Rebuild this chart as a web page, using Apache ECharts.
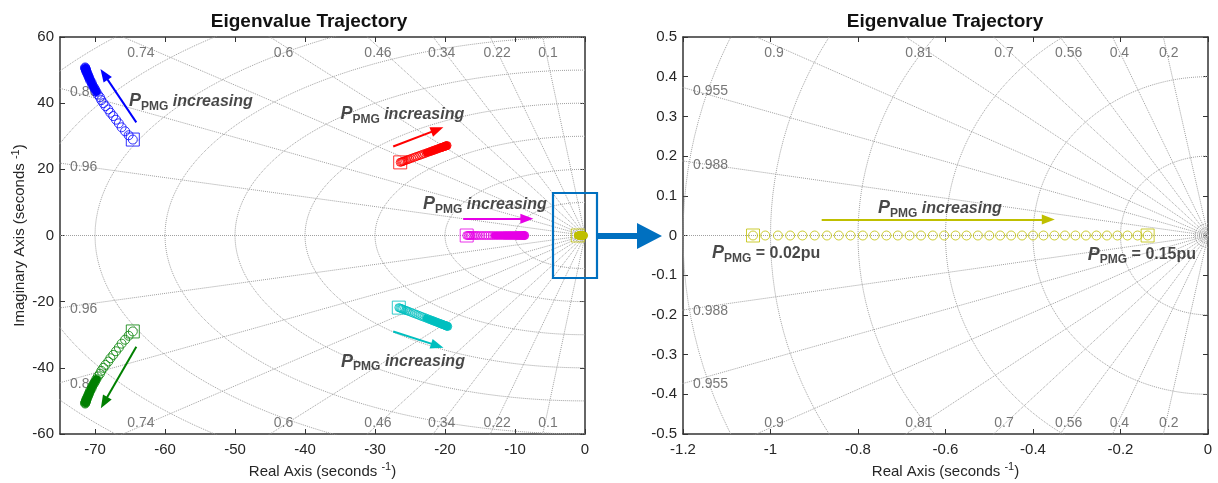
<!DOCTYPE html>
<html>
<head>
<meta charset="utf-8">
<script src="https://cdn.jsdelivr.net/npm/echarts@6/dist/echarts.min.js"></script>
<style>
  html, body { margin: 0; background: #fff; }
  #main { width: 1218px; height: 483px; }
</style>
</head>
<body>
<div id="main"></div>
<script>
// ---------- tick labels ----------
const leftXTicks = [-70, -60, -50, -40, -30, -20, -10, 0]
const leftYTicks = [-60, -40, -20, 0, 20, 40, 60]
const rightXTicks = [-1.2, -1, -0.8, -0.6, -0.4, -0.2, 0]
const rightYTicks = [-0.5, -0.4, -0.3, -0.2, -0.1, 0, 0.1, 0.2, 0.3, 0.4, 0.5]

// damping ratios / natural frequencies of the s-plane grid
const leftZeta = [0.1, 0.22, 0.34, 0.46, 0.6, 0.74, 0.86, 0.96]
const leftWn = [0.5, 1, 1.5, 2, 10, 20, 30, 40, 50, 60, 70, 80, 90]
const rightZeta = [0.2, 0.4, 0.56, 0.7, 0.81, 0.9, 0.955, 0.988]
const rightWn = [0.01, 0.02, 0.03, 0.2, 0.4, 0.6, 0.8, 1, 1.2]

// ---------- eigenvalues (P_PMG from 0.02pu to 0.15pu) ----------
const blueRe = [-64.6, -65.2, -65.7, -66.2, -66.6, -67.0, -67.4, -67.8, -68.1, -68.5, -68.8, -69.1, -69.3, -69.6, -69.8,
  -70.0, -70.2, -70.4, -70.5, -70.7, -70.8, -70.9, -71.0, -71.1, -71.2, -71.25, -71.3, -71.35, -71.4, -71.4]
const blueIm = [29.0, 30.3, 31.5, 32.7, 33.9, 35.0, 36.1, 37.1, 38.1, 39.1, 40.0, 40.9, 41.8, 42.6, 43.4,
  44.2, 44.9, 45.6, 46.3, 46.9, 47.5, 48.0, 48.5, 49.0, 49.4, 49.8, 50.1, 50.4, 50.6, 50.8]

const greenRe = [-64.6, -65.2, -65.7, -66.2, -66.6, -67.0, -67.4, -67.8, -68.1, -68.5, -68.8, -69.1, -69.3, -69.6, -69.8,
  -70.0, -70.2, -70.4, -70.5, -70.7, -70.8, -70.9, -71.0, -71.1, -71.2, -71.25, -71.3, -71.35, -71.4, -71.4]
const greenIm = [-29.0, -30.3, -31.5, -32.7, -33.9, -35.0, -36.1, -37.1, -38.1, -39.1, -40.0, -40.9, -41.8, -42.6, -43.4,
  -44.2, -44.9, -45.6, -46.3, -46.9, -47.5, -48.0, -48.5, -49.0, -49.4, -49.8, -50.1, -50.4, -50.6, -50.8]

const redRe = [-26.40, -26.27, -26.13, -26.00, -25.86, -25.66, -25.46, -25.26, -25.06, -24.79, -24.52, -24.26,
  -23.99, -23.72, -23.45, -23.18, -22.92, -22.65, -22.38, -22.11, -21.91, -21.71, -21.51, -21.31,
  -21.11, -20.91, -20.71, -20.57, -20.44, -20.30, -20.17, -20.04, -19.90, -19.83, -19.77, -19.70]
const redIm = [22.10, 22.20, 22.30, 22.41, 22.51, 22.66, 22.81, 22.97, 23.12, 23.32, 23.53, 23.73,
  23.94, 24.14, 24.34, 24.55, 24.75, 24.96, 25.16, 25.36, 25.52, 25.67, 25.82, 25.98,
  26.13, 26.28, 26.44, 26.54, 26.64, 26.74, 26.84, 26.95, 27.05, 27.10, 27.15, 27.20]

const cyanRe = [-26.60, -26.46, -26.32, -26.18, -26.04, -25.83, -25.62, -25.41, -25.20, -24.92, -24.64, -24.36,
  -24.08, -23.80, -23.52, -23.24, -22.96, -22.68, -22.40, -22.12, -21.91, -21.70, -21.49, -21.28,
  -21.07, -20.86, -20.65, -20.51, -20.37, -20.23, -20.09, -19.95, -19.81, -19.74, -19.67, -19.60]
const cyanIm = [-21.80, -21.91, -22.03, -22.14, -22.26, -22.43, -22.60, -22.77, -22.94, -23.17, -23.40, -23.62,
  -23.85, -24.08, -24.31, -24.54, -24.76, -24.99, -25.22, -25.45, -25.62, -25.79, -25.96, -26.13,
  -26.30, -26.47, -26.65, -26.76, -26.87, -26.99, -27.10, -27.22, -27.33, -27.39, -27.44, -27.50]

const magentaRe = [-16.90, -16.73, -16.57, -16.40, -16.24, -15.99, -15.74, -15.49, -15.24, -14.91, -14.58, -14.24,
  -13.91, -13.58, -13.25, -12.92, -12.58, -12.25, -11.92, -11.59, -11.34, -11.09, -10.84, -10.59,
  -10.34, -10.09, -9.85, -9.68, -9.51, -9.35, -9.18, -9.02, -8.85, -8.77, -8.68, -8.60]
const magentaIm = [0, 0, 0, 0, 0, 0, 0, 0, 0, 0, 0, 0, 0, 0, 0, 0, 0, 0,
  0, 0, 0, 0, 0, 0, 0, 0, 0, 0, 0, 0, 0, 0, 0, 0, 0, 0]

const yellowRe = [-1.040, -1.012, -0.983, -0.955, -0.927, -0.899, -0.871, -0.844, -0.817, -0.789, -0.762, -0.735,
  -0.709, -0.682, -0.656, -0.629, -0.603, -0.577, -0.552, -0.526, -0.500, -0.475, -0.450, -0.425,
  -0.400, -0.376, -0.351, -0.327, -0.303, -0.279, -0.255, -0.231, -0.207, -0.184, -0.161, -0.138]
const yellowIm = [0, 0, 0, 0, 0, 0, 0, 0, 0, 0, 0, 0, 0, 0, 0, 0, 0, 0,
  0, 0, 0, 0, 0, 0, 0, 0, 0, 0, 0, 0, 0, 0, 0, 0, 0, 0]

// ---------- layout ----------
const FONT = '"Liberation Sans", Arial, sans-serif'
const TXT = '#262626'
const NOTE = '#1a1a1a'
const GRIDC = '#a0a0a0'
const L = { left: 60, top: 37, width: 525, height: 397, xMin: -75, xMax: 0, yMin: -60, yMax: 60 }
const R = { left: 683, top: 37, width: 525, height: 397, xMin: -1.2, xMax: 0, yMin: -0.5, yMax: 0.5 }

const pmgRich = {
  p: { fontSize: 18, fontWeight: 'bold', fontStyle: 'italic', color: NOTE, fontFamily: FONT },
  s: { fontSize: 12, fontWeight: 'bold', color: NOTE, fontFamily: FONT, padding: [10, 0, 0, 0] },
  t: { fontSize: 16, fontWeight: 'bold', fontStyle: 'italic', color: NOTE, fontFamily: FONT },
  n: { fontSize: 16, fontWeight: 'bold', color: NOTE, fontFamily: FONT },
}

const pts = (re, im) => re.map((x, i) => [x, im[i]])

// s-plane grid: damping rays + natural frequency arcs
function sGrid(P, zetas, wns, xi, yi) {
  const out = []
  const big = 20 * Math.max(-P.xMin, P.yMax)
  const line = (data) => ({
    type: 'line', xAxisIndex: xi, yAxisIndex: yi, data, showSymbol: false, silent: true, z: 1,
    lineStyle: { color: GRIDC, width: 1, type: 'dotted' },
  })
  zetas.concat([1]).forEach((z) => {
    const s = Math.sqrt(1 - z * z)
    out.push(line([[0, 0], [-big * z, big * s]]))
    if (s > 0) out.push(line([[0, 0], [-big * z, -big * s]]))
  })
  wns.forEach((w) => {
    const arc = []
    for (let a = 90; a <= 270; a += 2) {
      const t = (a * Math.PI) / 180
      arc.push([w * Math.cos(t), w * Math.sin(t)])
    }
    out.push(line(arc))
  })
  // damping labels on the box edges
  const kx = P.width / (P.xMax - P.xMin)
  const ky = P.height / (P.yMax - P.yMin)
  const labels = []
  zetas.forEach((z) => {
    const s = Math.sqrt(1 - z * z)
    const xt = (-P.yMax * z) / s
    const base = { fontSize: 14, color: '#555', fontFamily: FONT, show: true, formatter: String(z) }
    if (xt >= P.xMin) {
      const dx = 4 + (6 * z * kx) / (s * ky)
      labels.push({ value: [xt, P.yMax], label: { ...base, offset: [dx, 16] } })
      labels.push({ value: [xt, P.yMin], label: { ...base, offset: [dx, -11] } })
    } else {
      const yl = (-P.xMin * s) / z
      labels.push({ value: [P.xMin, yl], label: { ...base, align: 'left', offset: [10, 4] } })
      labels.push({ value: [P.xMin, -yl], label: { ...base, align: 'left', offset: [10, 1] } })
    }
  })
  out.push({
    type: 'scatter', xAxisIndex: xi, yAxisIndex: yi, data: labels, symbolSize: 0, silent: true, z: 2,
    label: { position: 'inside', verticalAlign: 'middle' },
  })
  return out
}

function traj(re, im, color, xi, yi, size, bandFrom, endSquare) {
  const data = pts(re, im)
  const out = [{
    type: 'scatter', xAxisIndex: xi, yAxisIndex: yi, data, symbol: 'circle', symbolSize: size, silent: true, z: 4,
    itemStyle: { color: 'rgba(0,0,0,0)', borderColor: color, borderWidth: 1 },
  }]
  if (bandFrom != null) {
    out.push({
      type: 'line', xAxisIndex: xi, yAxisIndex: yi, data: data.slice(bandFrom), showSymbol: false, silent: true, z: 3,
      lineStyle: { color, width: size - 1, cap: 'round', join: 'round' },
    })
  }
  const sq = endSquare ? [data[0], data[data.length - 1]] : [data[0]]
  out.push({
    type: 'scatter', xAxisIndex: xi, yAxisIndex: yi, data: sq, symbol: 'rect', symbolSize: 13, silent: true, z: 5,
    itemStyle: { color: 'rgba(0,0,0,0)', borderColor: color, borderWidth: 1 },
  })
  return out
}

// text + arrow annotations
const leftNotes = [
  { at: [-56.3, 40.5], text: '{p|P}{s|PMG}{t| increasing}' },
  { at: [-26.1, 36.6], text: '{p|P}{s|PMG}{t| increasing}' },
  { at: [-14.3, 9.4], text: '{p|P}{s|PMG}{t| increasing}' },
  { at: [-26.0, -38.1], text: '{p|P}{s|PMG}{t| increasing}' },
]
const rightNotes = [
  { at: [-0.613, 0.068], text: '{p|P}{s|PMG}{t| increasing}' },
  { at: [-1.01, -0.045], text: '{p|P}{s|PMG}{n| = 0.02pu}' },
  { at: [-0.151, -0.048], text: '{p|P}{s|PMG}{n| = 0.15pu}' },
]
const leftArrows = [
  { from: [-64.1, 34.2], to: [-68.7, 48.7], color: '#0000FF' },
  { from: [-64.1, -33.6], to: [-68.7, -50.5], color: '#008000' },
  { from: [-27.4, 26.9], to: [-21.1, 32.0], color: '#FF0000' },
  { from: [-27.4, -29.0], to: [-21.1, -33.3], color: '#00BFBF' },
  { from: [-17.4, 5.1], to: [-8.3, 5.1], color: '#E600E6' },
]
const rightArrows = [
  { from: [-0.883, 0.04], to: [-0.365, 0.04], color: '#BFBF00' },
]

function notes(list, arrows, xi, yi) {
  return {
    type: 'scatter', xAxisIndex: xi, yAxisIndex: yi, symbolSize: 0, silent: true, z: 6,
    data: list.map((n) => ({ value: n.at, label: { show: true, formatter: n.text, rich: pmgRich, position: 'inside' } })),
    markLine: {
      silent: true, animation: false, symbol: ['none', 'triangle'], symbolSize: [10, 13],
      label: { show: false },
      data: arrows.map((a) => [
        { coord: a.from, lineStyle: { color: a.color, width: 2, type: 'solid' }, itemStyle: { color: a.color } },
        { coord: a.to, itemStyle: { color: a.color } },
      ]),
    },
  }
}

function axisPair(P, gi, ticks, dim, name, nameGap) {
  const common = {
    type: 'value', gridIndex: gi,
    min: dim === 'x' ? P.xMin : P.yMin, max: dim === 'x' ? P.xMax : P.yMax,
    splitLine: { show: false },
    axisLine: { show: true, onZero: false, lineStyle: { color: '#333', width: 1.5 } },
    axisTick: { show: true, inside: true, length: 5, customValues: ticks, lineStyle: { color: '#333' } },
  }
  const main = {
    ...common,
    position: dim === 'x' ? 'bottom' : 'left',
    axisLabel: { customValues: ticks, color: TXT, fontSize: 15, fontFamily: FONT, margin: dim === 'x' ? 8 : 6 },
  }
  if (name) {
    Object.assign(main, {
      name, nameLocation: 'middle', nameGap, nameRotate: dim === 'x' ? 0 : 90,
      nameTextStyle: {
        color: TXT, fontSize: 15, fontFamily: FONT,
        rich: { sup: { fontSize: 11, color: TXT, fontFamily: FONT, padding: [0, 0, 9, 0] } },
      },
    })
  }
  const mirror = { ...common, position: dim === 'x' ? 'top' : 'right', axisLabel: { show: false } }
  return [main, mirror]
}

const myChart = echarts.init(document.getElementById('main'), null, { renderer: 'canvas' })

const option = {
  animation: false,
  backgroundColor: '#fff',
  textStyle: { fontFamily: FONT },
  grid: [
    { left: L.left, top: L.top, width: L.width, height: L.height, outerBoundsMode: 'none' },
    { left: R.left, top: R.top, width: R.width, height: R.height, outerBoundsMode: 'none' },
  ],
  xAxis: [
    ...axisPair(L, 0, leftXTicks, 'x', 'Real Axis (seconds {sup|-1})', 25),
    ...axisPair(R, 1, rightXTicks, 'x', 'Real Axis (seconds {sup|-1})', 25),
  ],
  yAxis: [
    ...axisPair(L, 0, leftYTicks, 'y', 'Imaginary Axis (seconds {sup|-1})', 30),
    ...axisPair(R, 1, rightYTicks, 'y', null),
  ],
  series: [
    ...sGrid(L, leftZeta, leftWn, 0, 0),
    ...sGrid(R, rightZeta, rightWn, 2, 2),
    ...traj(blueRe, blueIm, '#0000FF', 0, 0, 9, 14, false),
    ...traj(greenRe, greenIm, '#008000', 0, 0, 9, 14, false),
    ...traj(redRe, redIm, '#FF0000', 0, 0, 8, 17, false),
    ...traj(cyanRe, cyanIm, '#00BFBF', 0, 0, 8, 17, false),
    ...traj(magentaRe, magentaIm, '#E600E6', 0, 0, 8, 15, false),
    ...traj(yellowRe, yellowIm, '#BFBF00', 0, 0, 7, 0, false),
    ...traj(yellowRe, yellowIm, '#BFBF00', 2, 2, 9, null, true),
    notes(leftNotes, leftArrows, 0, 0),
    notes(rightNotes, rightArrows, 2, 2),
  ],
  graphic: [
    { type: 'text', x: 309, y: 22, style: { text: 'Eigenvalue Trajectory', align: 'center', verticalAlign: 'middle', fontSize: 19, fontWeight: 'bold', fontFamily: FONT, fill: '#111' } },
    { type: 'text', x: 945, y: 22, style: { text: 'Eigenvalue Trajectory', align: 'center', verticalAlign: 'middle', fontSize: 19, fontWeight: 'bold', fontFamily: FONT, fill: '#111' } },
    { type: 'rect', shape: { x: 553, y: 193, width: 44, height: 85 }, style: { fill: 'none', stroke: '#0070C0', lineWidth: 2.2 }, z: 100 },
    { type: 'polygon', shape: { points: [[598, 233], [637, 233], [637, 223], [662, 236], [637, 249], [637, 239], [598, 239]] }, style: { fill: '#0070C0' }, z: 100 },
  ],
}
myChart.setOption(option)
</script>
</body>
</html>
